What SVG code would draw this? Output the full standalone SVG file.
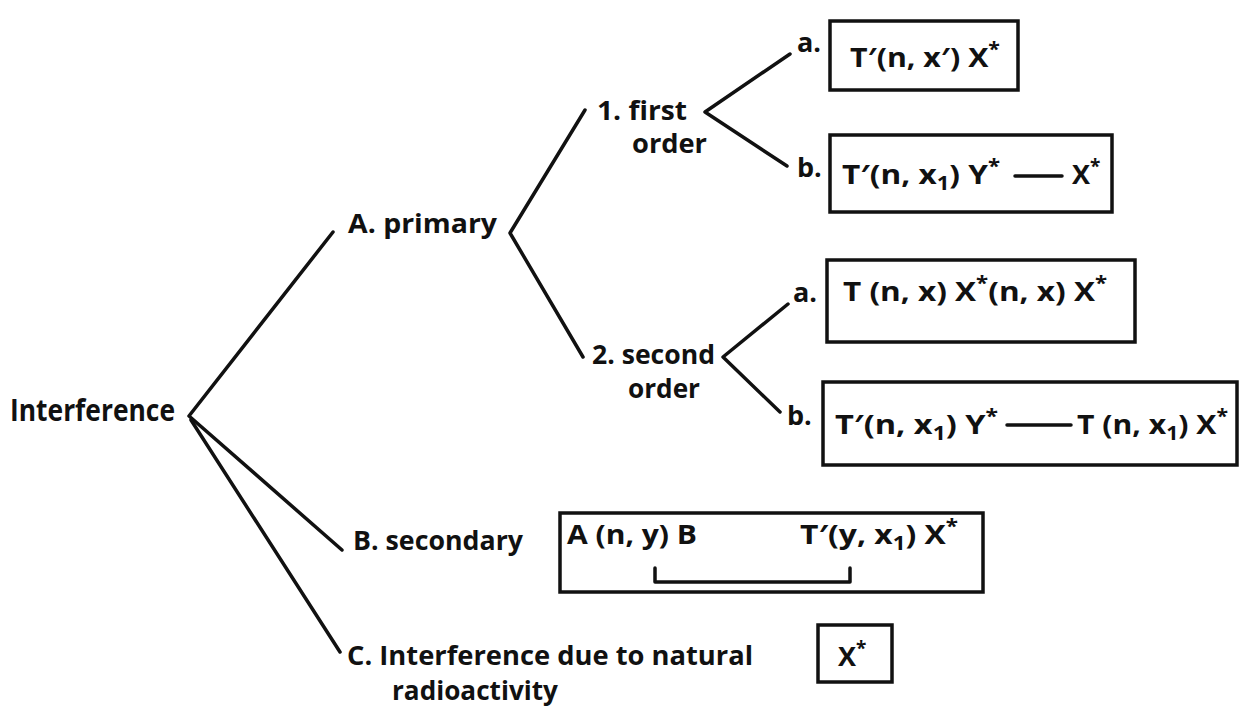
<svg xmlns="http://www.w3.org/2000/svg" width="1256" height="713" viewBox="0 0 1256 713">
<style>
text{font-family:"Open Sans","Liberation Sans",sans-serif;font-weight:700;font-size:27px;fill:#111}
.big{font-size:30px}
.box{fill:none;stroke:#111;stroke-width:3.5}
.ln{fill:none;stroke:#111;stroke-width:3.5;stroke-linecap:round;stroke-linejoin:round}
.sub{font-size:19px}
.sup{font-size:19px}
</style>
<rect width="1256" height="713" fill="#fff"/>
<g id="connectors">
<polyline class="ln" points="333,232 189,416 342,550"/>
<line class="ln" x1="191" y1="420" x2="340" y2="652"/>
<polyline class="ln" points="585,110 510,233 583,357"/>
<polyline class="ln" points="790,54 705,112 787,166"/>
<polyline class="ln" points="788,304 723,357 780,412"/>
</g>
<g id="root"><text class="big" x="10" y="421" textLength="165" lengthAdjust="spacingAndGlyphs">Interference</text></g>
<g id="primary"><text x="348" y="233" textLength="149" lengthAdjust="spacingAndGlyphs">A. primary</text></g>
<g id="first-order">
<text x="597" y="120" textLength="90" lengthAdjust="spacingAndGlyphs">1. first</text>
<text x="632" y="153" textLength="75" lengthAdjust="spacingAndGlyphs">order</text>
</g>
<g id="second-order">
<text x="592" y="364" textLength="123" lengthAdjust="spacingAndGlyphs">2. second</text>
<text x="628" y="398" textLength="72" lengthAdjust="spacingAndGlyphs">order</text>
</g>
<g id="first-a">
<text x="797" y="52">a.</text>
<rect class="box" x="830" y="21" width="188" height="69"/>
<text x="850" y="67" textLength="150" lengthAdjust="spacingAndGlyphs">T′(n, x′) X<tspan class="sup" dy="-11">*</tspan></text>
</g>
<g id="first-b">
<text x="797" y="177">b.</text>
<rect class="box" x="830" y="135" width="282" height="77"/>
<text x="842" y="184" textLength="158" lengthAdjust="spacingAndGlyphs">T′(n, x<tspan class="sub" dy="6">1</tspan><tspan dy="-6">) Y</tspan><tspan class="sup" dy="-11">*</tspan></text>
<line class="ln" x1="1015" y1="176" x2="1062" y2="176" stroke-width="2.5"/>
<text x="1072" y="184">X<tspan class="sup" dy="-11">*</tspan></text>
</g>
<g id="second-a">
<text x="793" y="302">a.</text>
<rect class="box" x="827" y="260" width="308" height="82"/>
<text x="843" y="301" textLength="264" lengthAdjust="spacingAndGlyphs">T (n, x) X<tspan class="sup" dy="-11">*</tspan><tspan dy="11">(n, x) X</tspan><tspan class="sup" dy="-11">*</tspan></text>
</g>
<g id="second-b">
<text x="787" y="425">b.</text>
<rect class="box" x="823" y="382" width="414" height="83"/>
<text x="835" y="434" textLength="163" lengthAdjust="spacingAndGlyphs">T′(n, x<tspan class="sub" dy="6">1</tspan><tspan dy="-6">) Y</tspan><tspan class="sup" dy="-11">*</tspan></text>
<line class="ln" x1="1007" y1="425" x2="1071" y2="425" stroke-width="2.5"/>
<text x="1077" y="434" textLength="151" lengthAdjust="spacingAndGlyphs">T (n, x<tspan class="sub" dy="6">1</tspan><tspan dy="-6">) X</tspan><tspan class="sup" dy="-11">*</tspan></text>
</g>
<g id="secondary">
<text x="353" y="550" textLength="170" lengthAdjust="spacingAndGlyphs">B. secondary</text>
<rect class="box" x="560" y="513" width="423" height="79"/>
<text x="567" y="544" textLength="130" lengthAdjust="spacingAndGlyphs">A (n, y) B</text>
<text x="800" y="544" textLength="158" lengthAdjust="spacingAndGlyphs">T′(y, x<tspan class="sub" dy="6">1</tspan><tspan dy="-6">) X</tspan><tspan class="sup" dy="-11">*</tspan></text>
<polyline class="ln" points="655,568 655,582 850,582 850,568" stroke-width="2.5"/>
</g>
<g id="natural">
<text x="347" y="665" textLength="406" lengthAdjust="spacingAndGlyphs">C. Interference due to natural</text>
<text x="392" y="700" textLength="166" lengthAdjust="spacingAndGlyphs">radioactivity</text>
<rect class="box" x="818" y="625" width="74" height="57"/>
<text x="838" y="666">X<tspan class="sup" dy="-11">*</tspan></text>
</g>
</svg>
